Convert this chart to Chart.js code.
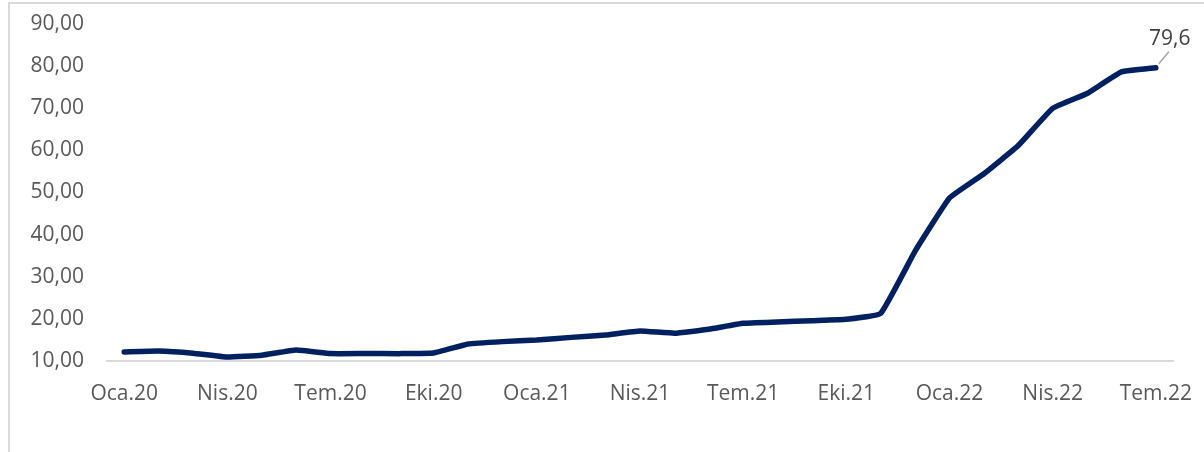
<!DOCTYPE html>
<html>
<head>
<meta charset="utf-8">
<script src="https://cdn.jsdelivr.net/npm/chart.js@4/dist/chart.umd.min.js"></script>
<style>
  html, body { margin: 0; padding: 0; background: #fff; }
  #wrap { position: relative; width: 1204px; height: 452px; }
  #frame {
    position: absolute; left: 8px; top: 2px; right: 0; bottom: 0;
    border-left: 2px solid #d9d9d9; border-top: 2px solid #d9d9d9;
    pointer-events: none;
  }
</style>
</head>
<body>
<div id="wrap">
  <canvas id="chart" width="1204" height="452"></canvas>
  <div id="frame"></div>
</div>
<script>
// monthly labels, Oca.20 .. Tem.22
const months = ["Oca", "Şub", "Mar", "Nis", "May", "Haz", "Tem", "Ağu", "Eyl", "Eki", "Kas", "Ara"];
const years = ["20", "21", "22"];
const labels = [];
years.forEach(y => months.forEach(m => labels.push(m + "." + y)));
labels.length = 31;

// annual inflation (%)
const values = [
  12.15, 12.37, 11.86, 10.94, 11.39, 12.62, 11.76, 11.77, 11.75, 11.89, 14.03, 14.60,
  14.97, 15.61, 16.19, 17.14, 16.59, 17.53, 18.95, 19.25, 19.58, 19.89, 21.31, 36.08,
  48.69, 54.44, 61.14, 69.97, 73.50, 78.62, 79.60
];

const lastLabel = "79,6";

// draws the label for the last point with a small leader line
const lastPointLabel = {
  id: "lastPointLabel",
  afterDatasetsDraw(chart) {
    const ctx = chart.ctx;
    const pt = chart.getDatasetMeta(0).data[values.length - 1];
    ctx.save();
    ctx.strokeStyle = "#a6a6a6";
    ctx.lineWidth = 1.5;
    ctx.beginPath();
    ctx.moveTo(pt.x + 3, pt.y - 4);
    ctx.lineTo(pt.x + 13, pt.y - 16);
    ctx.stroke();
    ctx.fillStyle = "#404040";
    ctx.font = "21px 'Open Sans'";
    ctx.textAlign = "center";
    ctx.textBaseline = "alphabetic";
    ctx.fillText(lastLabel, pt.x + 14, pt.y - 23);
    ctx.restore();
  }
};

new Chart(document.getElementById("chart"), {
  type: "line",
  data: {
    labels: labels,
    datasets: [
      {
        data: values,
        borderColor: "#002060",
        borderWidth: 5.5,
        borderJoinStyle: "round",
        borderCapStyle: "round",
        pointRadius: 0,
        tension: 0.1,
        fill: false
      }
    ]
  },
  options: {
    responsive: false,
    animation: false,
    layout: { padding: { top: 24, right: 31, bottom: 0, left: 30 } },
    plugins: {
      legend: { display: false },
      tooltip: { enabled: false }
    },
    scales: {
      x: {
        offset: true,
        grid: { display: false, drawTicks: false },
        border: { display: true, color: "#d9d9d9", width: 2 },
        ticks: {
          autoSkip: false,
          maxRotation: 0,
          padding: 20,
          color: "#595959",
          font: { family: "'Open Sans'", size: 21 },
          callback: function(val, i) {
            return i % 3 === 0 ? labels[i] : "";
          }
        },
        afterFit: scale => {
          scale.height = 91;
          scale.paddingLeft = 0;
          scale.paddingRight = 0;
        }
      },
      y: {
        min: 10,
        max: 90,
        grid: { display: false, drawTicks: false },
        border: { display: false },
        ticks: {
          stepSize: 10,
          padding: 23,
          color: "#595959",
          font: { family: "'Open Sans'", size: 21 },
          callback: v => v.toFixed(2).replace(".", ",")
        },
        afterFit: scale => {
          scale.width = 77;
          scale.paddingTop = 0;
          scale.paddingBottom = 0;
        }
      }
    }
  },
  plugins: [lastPointLabel]
});
</script>
</body>
</html>
